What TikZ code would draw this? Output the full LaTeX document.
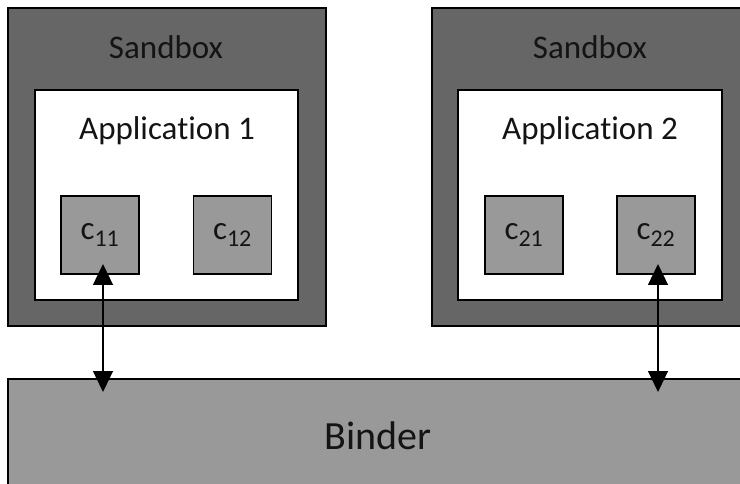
\documentclass[tikz,border=0pt]{standalone}
\usepackage{fontspec}
\setmainfont[RawFeature={-liga;-clig;-calt;-dlig}]{Carlito}
\usetikzlibrary{arrows.meta}
\definecolor{sandgray}{HTML}{666666}
\definecolor{compgray}{HTML}{999999}
\definecolor{txtdark}{HTML}{141414}
\begin{document}
\begin{tikzpicture}[x=1pt,y=-1pt,
  box/.style={draw=black,line width=1.5pt},
  sandbox/.style={box,fill=sandgray},
  appbox/.style={box,fill=white},
  comp/.style={box,fill=compgray},
  lbl/.style={font=\fontsize{33}{38}\selectfont,text=txtdark,inner sep=0pt},
  clbl/.style={font=\fontsize{33}{38}\selectfont,text=txtdark,inner sep=0pt},
  conn/.style={line width=1.3pt,{Triangle[length=21pt,width=20pt]}-{Triangle[length=21pt,width=20pt]}}]
\useasboundingbox (0,0) rectangle (740,484);
\clip (0,0) rectangle (740,484);
% sandboxes
\draw[sandbox] (8,8) rectangle (326,326);
\draw[sandbox] (432,8) rectangle (760,326);
\node[lbl] (sb1) at (166,47) {Sandbox};
\node[lbl] (sb2) at (590,47) {Sandbox};
% applications
\draw[appbox] (35,90) rectangle (298,300);
\draw[appbox] (458,90) rectangle (722,300);
\node[lbl] (app1) at (167,131) {Application 1};
\node[lbl] (app2) at (590,131) {Application 2};
% components
\node[comp,minimum width=78pt,minimum height=78pt] (c11) at (100,235) {};
\node[comp,minimum width=78pt,minimum height=78pt] (c12) at (232.5,235) {};
\node[comp,minimum width=78pt,minimum height=78pt] (c21) at (524,235) {};
\node[comp,minimum width=78pt,minimum height=78pt] (c22) at (656,235) {};
\node[clbl] at (c11) {c\textsubscript{\fontsize{24}{26}\selectfont 11}};
\node[clbl] at (c12) {c\textsubscript{\fontsize{24}{26}\selectfont 12}};
\node[clbl] at (c21) {c\textsubscript{\fontsize{24}{26}\selectfont 21}};
\node[clbl] at (c22) {c\textsubscript{\fontsize{24}{26}\selectfont 22}};
% binder
\draw[box,fill=compgray] (8,379) rectangle (760,500);
\node[font=\fontsize{40}{46}\selectfont,text=txtdark,inner sep=0pt] (bindertxt) at (378,436) {Binder};
\coordinate (b1) at (103,392);
\coordinate (b2) at (658,392);
\coordinate (t1) at (103,264);
\coordinate (t2) at (658,264);
\draw[conn] (t1) -- (b1);
\draw[conn] (t2) -- (b2);
\end{tikzpicture}
\end{document}
